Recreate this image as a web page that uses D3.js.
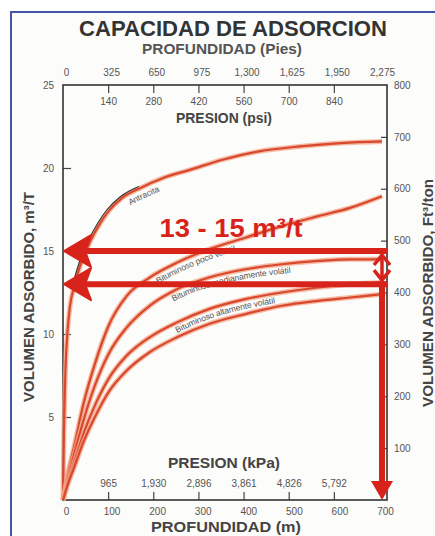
<!DOCTYPE html>
<html><head><meta charset="utf-8">
<script src="https://cdn.jsdelivr.net/npm/d3@7"></script>
<style>
body{margin:0;background:#fff}
svg{display:block}
text{font-family:"Liberation Sans",Arial,Helvetica,sans-serif}
</style>
</head><body>
<svg id="chart" width="435" height="536"></svg>
<script>
// Depth samples (m) shared by the bituminous curves
const depthM = [0, 10, 25, 45, 70, 100, 140, 190, 250, 320, 400, 480, 560, 630, 700];
// Anthracite depth samples (m) – denser near the surface where it rises steeply
const antracitaDepth = [0, 2, 5, 10, 15, 25, 40, 60, 80, 100, 130, 170, 220, 280, 350, 430, 520, 610, 700];
// Adsorbed volume (m³/t)
const antracita   = [0, 4, 7.5, 10.2, 11.6, 12.9, 14.3, 15.6, 16.6, 17.4, 18.2, 18.8, 19.4, 19.9, 20.5, 21.0, 21.3, 21.5, 21.6];
const bitPoco     = [0, 1.5, 3.3, 5.8, 8.2, 10.5, 12.3, 13.4, 14.3, 15.1, 15.8, 16.5, 17.1, 17.6, 18.3];
const bitMedia    = [0, 1.2, 2.8, 4.8, 6.9, 8.8, 10.4, 11.7, 12.7, 13.4, 13.9, 14.2, 14.4, 14.5, 14.5];
const bitAlta     = [0, 1.0, 2.3, 4.0, 5.7, 7.3, 8.7, 9.8, 10.7, 11.5, 12.1, 12.5, 12.8, 13.0, 13.1];
const bitAlta2    = [0, 0.9, 2.0, 3.5, 5.0, 6.5, 7.8, 8.9, 9.8, 10.6, 11.2, 11.7, 12.0, 12.2, 12.4];

// Axis ticks
const mTicks    = [0, 100, 200, 300, 400, 500, 600, 700];
const ftTicks   = [0, 325, 650, 975, 1300, 1625, 1950, 2275];
const psiTicks  = [140, 280, 420, 560, 700, 840];
const kpaTicks  = [965, 1930, 2896, 3861, 4826, 5792];
const volTicks  = [5, 10, 15, 20, 25];
const ftonTicks = [100, 200, 300, 400, 500, 600, 700, 800];

// Highlighted range (m³/t) and the depth it is read at (m)
const rangeLevels = [15, 13];
const rangeDepth = 700;

// Unit conversions between the stacked scales
const M_TO_FT = 3.2808;
const PSI_PER_FT = 140 / 325;
const KPA_PER_PSI = 6.895;

const svg = d3.select("#chart");
const L = 63, R = 387, T = 85, B = 500;

// Primary scales
const x = d3.scaleLinear().domain([0, 700]).range([L, 382]);
const y = d3.scaleLinear().domain([0, 25]).range([B, T]);
const yFt = d3.scaleLinear().domain([0, 800]).range([B, T]);
// Derived horizontal scales expressed in their own units
const xFt  = d3.scaleLinear().domain([0, 700 * M_TO_FT]).range(x.range());
const xPsi = d3.scaleLinear().domain([0, 700 * M_TO_FT * PSI_PER_FT]).range(x.range());
const xKpa = d3.scaleLinear().domain([0, 700 * M_TO_FT * PSI_PER_FT * KPA_PER_PSI]).range(x.range());

// Outer frame
svg.append("rect").attr("x", 0).attr("y", 0).attr("width", 435).attr("height", 536).attr("fill", "#fff");
svg.append("rect").attr("x", 11).attr("y", 12).attr("width", 440).attr("height", 540)
  .attr("fill", "#fcfcfa").attr("stroke", "#4656a6").attr("stroke-width", 2);

const fmt = d3.format(",");
const tickColor = "#555";

function styleAxis(g, size) {
  g.select(".domain").remove();
  g.selectAll(".tick line").attr("stroke", "#444").attr("stroke-width", 1.2);
  g.selectAll(".tick text").attr("fill", tickColor).attr("font-size", size)
    .attr("font-family", "Liberation Sans, Arial, sans-serif");
}

// Top: depth in feet (labels above) and pressure in psi (ticks hanging inside)
svg.append("g").attr("transform", `translate(0,${T})`)
  .call(d3.axisTop(xFt).tickValues(ftTicks).tickSize(0).tickPadding(9).tickFormat(fmt))
  .call(g => styleAxis(g, 10))
  .call(g => g.selectAll(".tick text").attr("dx", 3));
svg.append("g").attr("transform", `translate(0,${T})`)
  .call(d3.axisBottom(xPsi).tickValues(psiTicks).tickSize(8).tickPadding(5).tickFormat(fmt))
  .call(g => styleAxis(g, 10));

// Bottom: pressure in kPa (ticks pointing up inside) and depth in metres
svg.append("g").attr("transform", `translate(0,${B})`)
  .call(d3.axisTop(xKpa).tickValues(kpaTicks).tickSize(8).tickPadding(5).tickFormat(fmt))
  .call(g => styleAxis(g, 10));
svg.append("g").attr("transform", `translate(0,${B})`)
  .call(d3.axisBottom(x).tickValues(mTicks).tickSize(0).tickPadding(8))
  .call(g => styleAxis(g, 10))
  .call(g => g.selectAll(".tick text").attr("dx", 3));

// Left: m³/t, ticks inward
svg.append("g").attr("transform", `translate(${L},0)`)
  .call(d3.axisLeft(y).tickValues(volTicks).tickSizeInner(-8).tickSizeOuter(0).tickPadding(9))
  .call(g => styleAxis(g, 10))
  .call(g => g.selectAll(".tick").filter(d => d === 25).select("line").remove());
// Right: ft³/ton, ticks inward
svg.append("g").attr("transform", `translate(${R},0)`)
  .call(d3.axisRight(yFt).tickValues(ftonTicks).tickSizeInner(-6).tickSizeOuter(0).tickPadding(7))
  .call(g => styleAxis(g, 10))
  .call(g => g.selectAll(".tick").filter(d => d === 800).select("line").remove());

// Plot frame
svg.append("rect").attr("x", L).attr("y", T).attr("width", R - L).attr("height", B - T)
  .attr("fill", "none").attr("stroke", "#333").attr("stroke-width", 1.6);

// Titles
const title = (txt, cx, cy, size, fill, rot, len) => {
  const t = svg.append("text").attr("text-anchor", "middle").attr("font-weight", "bold")
    .attr("font-size", size).attr("fill", fill).text(txt);
  if (len) t.attr("textLength", len).attr("lengthAdjust", "spacingAndGlyphs");
  if (rot) t.attr("transform", `translate(${cx},${cy}) rotate(${rot})`);
  else t.attr("x", cx).attr("y", cy);
  return t;
};
title("CAPACIDAD DE ADSORCION", 233, 36, 22, "#333", 0, 308);
title("PROFUNDIDAD (Pies)", 222, 54, 15, "#555", 0, 160);
title("PRESION (psi)", 224, 123, 15, "#444", 0, 96);
title("PRESION (kPa)", 224, 468, 15, "#444", 0, 112);
title("PROFUNDIDAD (m)", 226, 532, 15, "#444", 0, 150);
title("VOLUMEN ADSORBIDO, m³/T", 34, 297, 14, "#444", -90, 210);
title("VOLUMEN ADSORBIDO, Ft³/ton", 433, 293, 14, "#444", -90, 228);

// Isotherm curves
const line = d3.line().x(d => x(d[0])).y(d => y(d[1])).curve(d3.curveMonotoneX);
const curves = [
  { name: "Antracita", pts: d3.zip(antracitaDepth, antracita), lx: 140, dy: 11 },
  { name: "Bituminoso poco volátil", pts: d3.zip(depthM, bitPoco), lx: 192, dy: 10 },
  { name: "Bituminoso medianamente volátil", pts: d3.zip(depthM, bitMedia), lx: 228, dy: 9.5 },
  { name: "Bituminoso altamente volátil", pts: d3.zip(depthM, bitAlta), lx: 222, dy: 9.5 },
  { name: "", pts: d3.zip(depthM, bitAlta2) }
];

const gc = svg.append("g");
curves.forEach((c, i) => {
  gc.append("path").attr("d", line(c.pts)).attr("fill", "none")
    .attr("stroke", "#f2a487").attr("stroke-width", 5).attr("stroke-opacity", 0.75);
  gc.append("path").attr("id", "curve" + i).attr("d", line(c.pts)).attr("fill", "none")
    .attr("stroke", "#d9472c").attr("stroke-width", 2.2);
});
// Printed black trace along the upper part of the anthracite curve
gc.append("path")
  .attr("d", line(d3.zip(antracitaDepth, antracita).filter(d => d[0] >= 25 && d[0] <= 170)))
  .attr("transform", "translate(-1.6,-1.4)")
  .attr("fill", "none").attr("stroke", "#333").attr("stroke-width", 1.1);

// Curve labels following each path
curves.forEach((c, i) => {
  if (!c.name) return;
  const node = document.getElementById("curve" + i);
  const total = node.getTotalLength();
  let lo = 0, hi = total;
  for (let k = 0; k < 40; k++) {
    const mid = (lo + hi) / 2;
    if (node.getPointAtLength(mid).x < c.lx) lo = mid; else hi = mid;
  }
  gc.append("text").attr("dy", c.dy).attr("font-size", 8.5).attr("fill", "#555")
    .append("textPath").attr("href", "#curve" + i).attr("startOffset", lo)
    .attr("text-anchor", "middle").text(c.name);
});

// Highlighted adsorption range
const red = "#d8231b";
const ga = svg.append("g");
const xa = x(rangeDepth);
rangeLevels.forEach(v => {
  const yy = y(v);
  ga.append("line").attr("x1", R).attr("x2", L + 14).attr("y1", yy).attr("y2", yy)
    .attr("stroke", red).attr("stroke-width", 6);
  ga.append("path")
    .attr("d", `M${L + 1},${yy} L${L + 28},${yy - 16} L${L + 22},${yy} L${L + 28},${yy + 16} Z`)
    .attr("fill", red).attr("stroke", red).attr("stroke-width", 2).attr("stroke-linejoin", "round");
});
const lo = d3.min(rangeLevels), hi = d3.max(rangeLevels);
const yTop = y(hi), yBot = y(lo);
// double-headed arrow between the two levels
ga.append("line").attr("x1", xa).attr("x2", xa).attr("y1", yTop + 4).attr("y2", yBot - 4)
  .attr("stroke", red).attr("stroke-width", 3.5);
ga.append("path").attr("d", `M${xa - 8},${yTop + 14} L${xa},${yTop + 4} L${xa + 8},${yTop + 14}`)
  .attr("fill", "none").attr("stroke", red).attr("stroke-width", 3.5);
ga.append("path").attr("d", `M${xa - 8},${yBot - 14} L${xa},${yBot - 4} L${xa + 8},${yBot - 14}`)
  .attr("fill", "none").attr("stroke", red).attr("stroke-width", 3.5);
// long arrow down to the depth axis
ga.append("line").attr("x1", xa).attr("x2", xa).attr("y1", yBot - 3).attr("y2", B - 16)
  .attr("stroke", red).attr("stroke-width", 6);
ga.append("path").attr("d", `M${xa},${B} L${xa - 11},${B - 19} L${xa + 11},${B - 19} Z`)
  .attr("fill", red);
ga.append("text").attr("x", 231).attr("y", 237).attr("text-anchor", "middle")
  .attr("font-size", 25).attr("font-weight", "bold").attr("fill", red)
  .attr("textLength", 143).attr("lengthAdjust", "spacingAndGlyphs")
  .text(`${lo} - ${hi} m³/t`);
</script>
</body></html>
